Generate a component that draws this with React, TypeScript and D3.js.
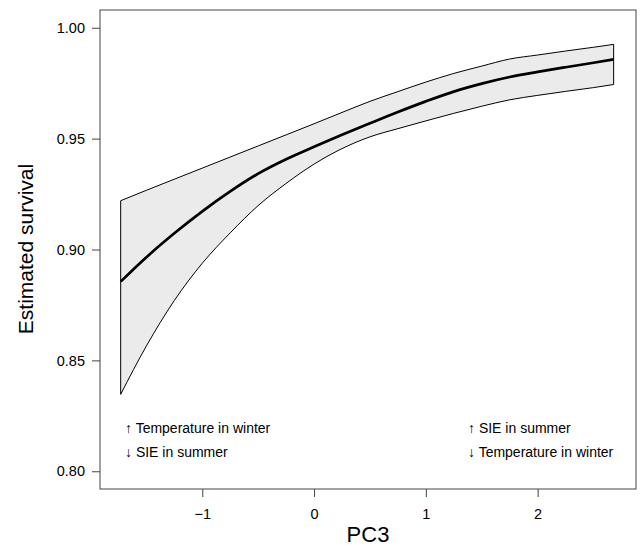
import * as d3 from "d3";
import { useEffect, useRef } from "react";

// PC3 values where the curves were read
const pc3 = [-1.73, -1.5, -1.25, -1.0, -0.75, -0.5, -0.25, 0, 0.25, 0.5, 0.75, 1.0, 1.25, 1.5, 1.75, 2.0, 2.25, 2.5, 2.68];
const survival = [0.8855, 0.8965, 0.9073, 0.9172, 0.9262, 0.9342, 0.9407, 0.9463, 0.9517, 0.9569, 0.962, 0.9668, 0.9712, 0.9748, 0.9778, 0.9801, 0.9822, 0.9842, 0.9857];
const upper = [0.922, 0.9267, 0.9317, 0.9367, 0.9417, 0.9467, 0.9517, 0.9567, 0.9618, 0.9668, 0.9712, 0.9755, 0.9794, 0.9827, 0.9859, 0.9877, 0.9895, 0.9912, 0.9925];
const lower = [0.8347, 0.8565, 0.877, 0.8938, 0.9075, 0.9198, 0.9298, 0.9385, 0.9455, 0.9508, 0.9545, 0.958, 0.9614, 0.9646, 0.9675, 0.9695, 0.9713, 0.973, 0.9744];

const xTicks = [-1, 0, 1, 2];
const yTicks = [0.8, 0.85, 0.9, 0.95, 1.0];

const leftNote = ["\u2191 Temperature in winter", "\u2193 SIE in summer"];
const rightNote = ["\u2191 SIE in summer", "\u2193 Temperature in winter"];

const font = "'Liberation Sans', Arial, Helvetica, sans-serif";

export default function App() {
  const svgRef = useRef<SVGSVGElement>(null);

  useEffect(() => {
    const svg = d3.select(svgRef.current);
    svg.selectAll("*").remove();

    const x = d3.scaleLinear().domain([-1.915, 2.88]).range([100, 636]);
    const y = d3.scaleLinear().domain([0.792, 1.008]).range([489, 10]);

    const rows = pc3.map((p, i) => ({ p, m: survival[i], lo: lower[i], hi: upper[i] }));
    const curve = d3.curveMonotoneX;

    // confidence band
    const band = d3
      .area<any>()
      .x((d) => x(d.p))
      .y0((d) => y(d.lo))
      .y1((d) => y(d.hi))
      .curve(curve);
    svg
      .append("path")
      .datum(rows)
      .attr("d", band)
      .attr("fill", "#ebebeb")
      .attr("stroke", "none");

    // band edges
    const edge = (key: "lo" | "hi") =>
      d3
        .line<any>()
        .x((d) => x(d.p))
        .y((d) => y(d[key]))
        .curve(curve);
    ["lo", "hi"].forEach((k) => {
      svg
        .append("path")
        .datum(rows)
        .attr("d", edge(k as "lo" | "hi"))
        .attr("fill", "none")
        .attr("stroke", "#000")
        .attr("stroke-width", 1);
    });
    // vertical ends of the band
    [rows[0], rows[rows.length - 1]].forEach((d) => {
      svg
        .append("line")
        .attr("x1", x(d.p))
        .attr("x2", x(d.p))
        .attr("y1", y(d.lo))
        .attr("y2", y(d.hi))
        .attr("stroke", "#000")
        .attr("stroke-width", 1);
    });

    // estimate
    const mean = d3
      .line<any>()
      .x((d) => x(d.p))
      .y((d) => y(d.m))
      .curve(curve);
    svg
      .append("path")
      .datum(rows)
      .attr("d", mean)
      .attr("fill", "none")
      .attr("stroke", "#000")
      .attr("stroke-width", 2.7);

    // axes
    const yAxis = d3.axisLeft(y).tickValues(yTicks).tickFormat(d3.format(".2f")).tickSize(8).tickPadding(7);
    const xAxis = d3.axisBottom(x).tickValues(xTicks).tickFormat(d3.format("d")).tickSize(8).tickPadding(12);

    const gy = svg.append("g").attr("transform", "translate(100,0)").call(yAxis);
    const gx = svg.append("g").attr("transform", "translate(0,489)").call(xAxis);
    [gx, gy].forEach((g) => {
      g.select(".domain").remove();
      g.selectAll("line").attr("stroke", "#444");
      g.selectAll("text")
        .attr("fill", "#000")
        .style("font-family", font)
        .style("font-size", "14.5px");
    });

    // box
    svg
      .append("rect")
      .attr("x", 100)
      .attr("y", 10)
      .attr("width", 536)
      .attr("height", 479)
      .attr("fill", "none")
      .attr("stroke", "#444")
      .attr("stroke-width", 1);

    // axis titles
    svg
      .append("text")
      .attr("x", 368)
      .attr("y", 542)
      .attr("text-anchor", "middle")
      .style("font-family", font)
      .style("font-size", "22px")
      .text("PC3");
    svg
      .append("text")
      .attr("transform", "translate(33,249) rotate(-90)")
      .attr("text-anchor", "middle")
      .style("font-family", font)
      .style("font-size", "21px")
      .text("Estimated survival");

    // notes
    const note = (lines: string[], left: number) => {
      svg
        .append("g")
        .selectAll("text")
        .data(lines)
        .join("text")
        .attr("x", left)
        .attr("y", (_d, i) => 433 + i * 23.5)
        .style("font-family", font)
        .style("font-size", "14px")
        .text((d) => d);
    };
    note(leftNote, 125);
    note(rightNote, 468);
  }, []);

  return (
    <svg
      ref={svgRef}
      width={640}
      height={547}
      style={{ position: "absolute", left: 0, top: 0, background: "#fff" }}
    />
  );
}
